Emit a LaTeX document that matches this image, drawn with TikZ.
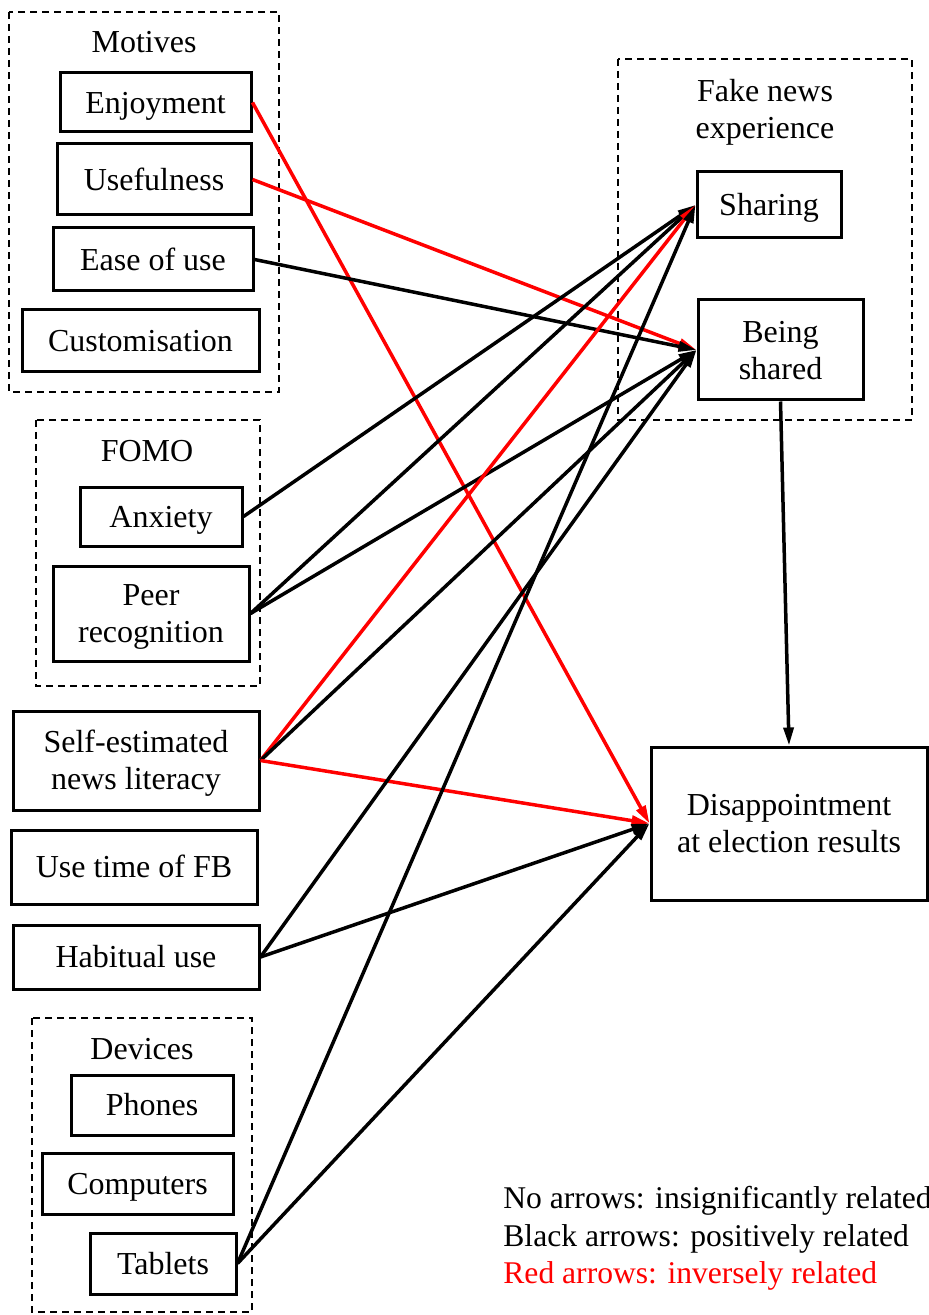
\documentclass[tikz,border=0pt]{standalone}
\usepackage{fontspec}
\setmainfont{Liberation Serif}
\usetikzlibrary{arrows.meta}
\def\lnstrut{\rule[-3.95pt]{0pt}{18.5pt}}
\begin{document}
\begin{tikzpicture}[x=0.5pt,y=-0.5pt,>={Triangle[length=9pt,width=5pt]},
    font=\fontsize{16}{18.5}\selectfont,
    box/.style={draw,line width=1.5pt,inner sep=0pt,align=center},
    grp/.style={draw,line width=1.1pt,dash pattern=on 3.5pt off 2.5pt},
    posarr/.style={->,line width=1.75pt},
    negarr/.style={->,line width=1.75pt,red}]
    \useasboundingbox (0,0) rectangle (929,1315);
    % groups
    \draw[grp] (9,12) rectangle (279,392);
    \draw[grp] (36,420) rectangle (260,686);
    \draw[grp] (32,1018) rectangle (252,1312);
    \draw[grp] (618,59) rectangle (912,420);
    \node[inner sep=0pt] (tmot) at (144,42) {\lnstrut Motives};
    \node[inner sep=0pt] (tfomo) at (147,451) {\lnstrut FOMO};
    \node[inner sep=0pt] (tdev) at (142,1049) {\lnstrut Devices};
    \node[inner sep=0pt,align=center] (tfake) at (765,109) {\lnstrut Fake news\\\lnstrut experience};
    %===========================================
    \foreach \n/\x/\y/\bw/\bh/\txt in {
        enj/155.5/102.5/191/59/Enjoyment,
        use/154/179.5/194/71/Usefulness,
        eas/153/259.5/200/63/Ease of use,
        cus/140.5/341/237/62/Customisation,
        anx/161/516.5/162/59/Anxiety,
        peer/151/613.5/196/95/Peer\\\lnstrut recognition,
        lit/136/760.5/246/99/Self-estimated\\\lnstrut news literacy,
        ut/134/867/246/74/Use time of FB,
        hab/136/957/246/64/Habitual use,
        pho/152/1105/162/60/Phones,
        com/137.5/1183.5/191/61/Computers,
        tab/163/1263.5/146/61/Tablets,
        sha/769/205/144/66/Sharing,
        bsh/780.5/350/165/100/Being\\\lnstrut shared,
        dis/789/823.5/276/153/Disappointment\\\lnstrut at election results}
        \node[box,minimum width={0.5*\bw pt},minimum height={0.5*\bh pt}] (\n) at (\x,\y) {\lnstrut\txt};
    %===========================================
    \foreach \a/\b/\s in {enj/dis/negarr,use/bsh/negarr,eas/bsh/posarr,anx/sha/posarr,
        peer/sha/posarr,peer/bsh/posarr,lit/sha/negarr,lit/bsh/posarr,lit/dis/negarr,
        hab/bsh/posarr,hab/dis/posarr,tab/sha/posarr,tab/dis/posarr}
        \draw[\s] (\a.east)--(\b.west);
    \draw[posarr] (bsh.south)--(dis.north);
    % legend
    \begin{scope}[nodes={anchor=base west,inner sep=0pt,font=\fontsize{15.8}{18.5}\selectfont}]
        \node (lg1) at (503,1208) {No arrows: insignificantly related};
        \node (lg2) at (503,1246) {Black arrows: positively related};
        \node[red] (lg3) at (503,1283) {Red arrows: inversely related};
    \end{scope}
\end{tikzpicture}
\end{document}
